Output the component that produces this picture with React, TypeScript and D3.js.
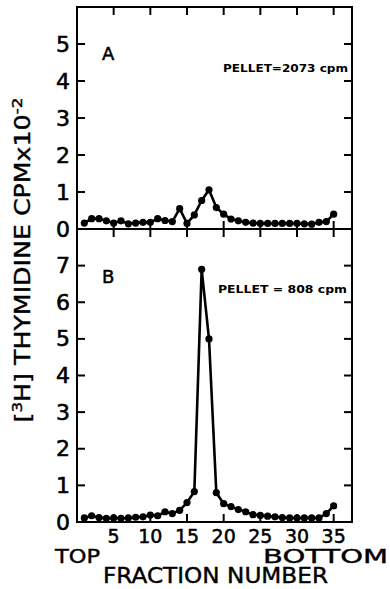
import * as d3 from "d3";

// fraction numbers, top (1) to bottom (35)
const FRACTIONS = d3.range(1, 36);
// panel A, cpm x 10^-2
const SERIES_A = [
  0.16, 0.28, 0.28, 0.22, 0.16, 0.22, 0.14, 0.16, 0.18, 0.18, 0.28, 0.23,
  0.2, 0.55, 0.15, 0.38, 0.77, 1.06, 0.58, 0.4, 0.27, 0.22, 0.18, 0.16, 0.15,
  0.15, 0.15, 0.15, 0.15, 0.15, 0.14, 0.13, 0.18, 0.2, 0.4,
];
// panel B, cpm x 10^-2
const SERIES_B = [
  0.11, 0.17, 0.12, 0.1, 0.11, 0.1, 0.11, 0.13, 0.14, 0.19, 0.17, 0.28, 0.23,
  0.32, 0.53, 0.83, 6.9, 5.0, 0.8, 0.5, 0.42, 0.34, 0.28, 0.2, 0.18, 0.16,
  0.14, 0.12, 0.11, 0.11, 0.11, 0.11, 0.11, 0.23, 0.44,
];
const X_TICKS = [5, 10, 15, 20, 25, 30, 35];
const Y_TICKS_A = [0, 1, 2, 3, 4, 5];
const Y_TICKS_B = [0, 1, 2, 3, 4, 5, 6, 7];

const WIDTH = 390;
const HEIGHT = 589;
const LEFT = 77;
const RIGHT = 352;
const TOP_A = 7;
const MID = 229;
const BOTTOM_B = 522;
const TICK = 8;
const FONT = "'DejaVu Sans', sans-serif";

const xScale = d3.scaleLinear().domain([0, 37.5]).range([LEFT, RIGHT]);
const yA = d3.scaleLinear().domain([0, 6]).range([MID, TOP_A]);
const yB = d3.scaleLinear().domain([0, 8]).range([BOTTOM_B, MID]);

type PanelProps = {
  values: number[];
  y: d3.ScaleLinear<number, number>;
  yTicks: number[];
  top: number;
  bottom: number;
};

const Panel = ({ values, y, yTicks, top, bottom }: PanelProps) => {
  const line = d3
    .line<number>()
    .x((_, i) => xScale(FRACTIONS[i]))
    .y((d) => y(d));

  return (
    <g>
      <rect
        x={LEFT}
        y={top}
        width={RIGHT - LEFT}
        height={bottom - top}
        fill="none"
        stroke="#000"
        strokeWidth={2}
      />
      {/* x ticks, inward on both edges */}
      {X_TICKS.map((t) => (
        <g key={t}>
          <line x1={xScale(t)} x2={xScale(t)} y1={top} y2={top + TICK} stroke="#000" strokeWidth={2} />
          <line x1={xScale(t)} x2={xScale(t)} y1={bottom} y2={bottom - TICK} stroke="#000" strokeWidth={2} />
        </g>
      ))}
      {/* y ticks, inward on left and right */}
      {yTicks.map((t) => (
        <g key={t}>
          <line x1={LEFT} x2={LEFT + TICK} y1={y(t)} y2={y(t)} stroke="#000" strokeWidth={2} />
          <line x1={RIGHT} x2={RIGHT - TICK} y1={y(t)} y2={y(t)} stroke="#000" strokeWidth={2} />
          <text
            x={70}
            y={y(t)}
            textAnchor="end"
            dominantBaseline="central"
            fontSize={22}
            fontFamily={FONT}
            stroke="#000"
            strokeWidth={0.6}
          >
            {t}
          </text>
        </g>
      ))}
      <path d={line(values) ?? ""} fill="none" stroke="#000" strokeWidth={2.6} strokeLinejoin="round" />
      {values.map((v, i) => (
        <circle key={i} cx={xScale(FRACTIONS[i])} cy={y(v)} r={3.6} fill="#000" />
      ))}
    </g>
  );
};

export default function App() {
  return (
    <svg
      width={WIDTH}
      height={HEIGHT}
      style={{ position: "absolute", left: 0, top: 0, background: "#fff" }}
    >
      <Panel values={SERIES_A} y={yA} yTicks={Y_TICKS_A} top={TOP_A} bottom={MID} />
      <Panel values={SERIES_B} y={yB} yTicks={Y_TICKS_B} top={MID} bottom={BOTTOM_B} />

      <text x={102} y={60} fontSize={18} fontFamily={FONT} stroke="#000" strokeWidth={0.5}>A</text>
      <text x={102} y={283} fontSize={18} fontFamily={FONT} stroke="#000" strokeWidth={0.5}>B</text>
      <text x={223} y={72} fontSize={10} fontWeight="bold" fontFamily={FONT} textLength={125} lengthAdjust="spacingAndGlyphs">
        PELLET=2073 cpm
      </text>
      <text x={218} y={293} fontSize={11} fontWeight="bold" fontFamily={FONT} textLength={129} lengthAdjust="spacingAndGlyphs">
        PELLET = 808 cpm
      </text>

      {/* x tick labels */}
      {X_TICKS.map((t) => (
        <text key={t} x={xScale(t)} y={543} textAnchor="middle" fontSize={19} fontFamily={FONT} stroke="#000" strokeWidth={0.5}>
          {t}
        </text>
      ))}
      <text x={55} y={563} fontSize={19} fontFamily={FONT} textLength={45} lengthAdjust="spacingAndGlyphs" stroke="#000" strokeWidth={0.4}>TOP</text>
      <text x={263} y={563} fontSize={19} fontFamily={FONT} textLength={125} lengthAdjust="spacingAndGlyphs" stroke="#000" strokeWidth={0.4}>BOTTOM</text>
      <text x={103} y={583} fontSize={21} fontFamily={FONT} textLength={225} lengthAdjust="spacingAndGlyphs" stroke="#000" strokeWidth={0.4}>
        FRACTION NUMBER
      </text>

      {/* y axis title */}
      <text
        transform="translate(30,260) rotate(-90)"
        textAnchor="middle"
        fontSize={21}
        fontFamily={FONT}
        textLength={325}
        lengthAdjust="spacingAndGlyphs"
        stroke="#000"
        strokeWidth={0.4}
      >
        [<tspan baselineShift="super" fontSize={14}>3</tspan>H] THYMIDINE CPMx10
        <tspan baselineShift="super" fontSize={14}>-2</tspan>
      </text>
    </svg>
  );
}
